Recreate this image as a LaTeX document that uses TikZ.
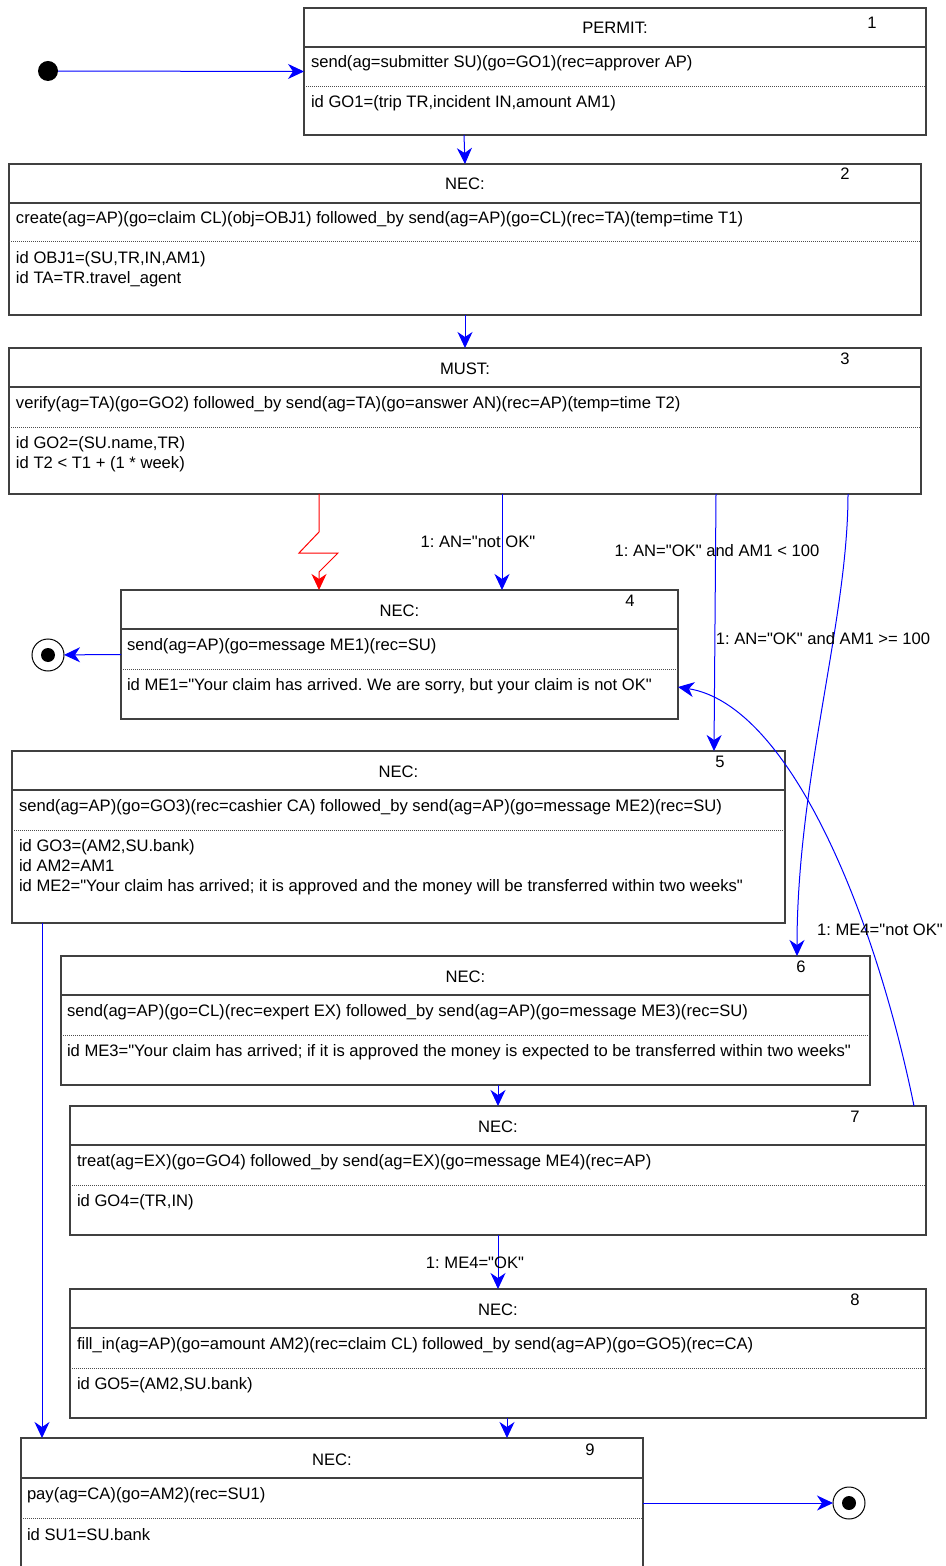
\documentclass[tikz,border=0pt]{standalone}
\usepackage{fontspec}
\newfontfamily\diagfont{Liberation Sans}
\usetikzlibrary{arrows.meta, positioning, calc}
\frenchspacing

\begin{document}
\begin{tikzpicture}[
    x=0.5pt, y=-0.5pt,
    every node/.style={font=\diagfont\fontsize{8.3}{10}\selectfont, inner sep=0pt, outer sep=0pt},
    frame/.style={draw=black!75, line width=0.6pt},
    sep/.style={draw=black!75, line width=0.6pt},
    dsep/.style={draw=black!70, line width=0.5pt, dash pattern=on 0.5pt off 0.5pt},
    title/.style={anchor=center, yshift=-1pt},
    num/.style={anchor=center, yshift=-1pt},
    line/.style={anchor=west, align=left, yshift=-1pt},
    guard/.style={anchor=center, yshift=-1pt},
    arrow/.style={-{Stealth[length=8pt, width=7.5pt, inset=2.5pt]}, blue, line width=0.5pt},
    fault/.style={-{Stealth[length=8pt, width=7.5pt, inset=2.5pt]}, red, line width=0.5pt},
    initial/.style={circle, fill=black, minimum size=10pt},
    final/.style={circle, draw=black, line width=0.5pt, minimum size=16pt,
                  path picture={\fill (path picture bounding box.center) circle (3.5pt);}}
  ]
  \useasboundingbox (0,0) rectangle (946,1566);

  % states
  \node[initial] (start) at (48,71) {};
  \node[final] (end1) at (48,655) {};
  \node[final] (end2) at (849,1503) {};

  % 1: permit
  \node[frame, minimum width=311pt, minimum height=63.5pt] (s1) at (615,71.5) {};
  \draw[sep] (s1.west |- 0,47) -- (s1.east |- 0,47);
  \draw[dsep] (s1.west |- 0,87) -- (s1.east |- 0,87);
  \node[title] (s1t) at (615,26) {PERMIT:};
  \node[num] (s1n) at (872,21) {1};
  \node[line] (s1a) at (311,61) {send(ag=submitter SU)(go=GO1)(rec=approver AP)};
  \node[line] (s1b) at (311,101) {id GO1=(trip TR,incident IN,amount AM1)};

  % 2
  \node[frame, minimum width=456pt, minimum height=75.5pt] (s2) at (465,239.5) {};
  \draw[sep] (s2.west |- 0,203) -- (s2.east |- 0,203);
  \draw[dsep] (s2.west |- 0,242) -- (s2.east |- 0,242);
  \node[title] (s2t) at (465,182) {NEC:};
  \node[num] (s2n) at (845,172) {2};
  \node[line] (s2a) at (16,217) {create(ag=AP)(go=claim CL)(obj=OBJ1) followed\_by send(ag=AP)(go=CL)(rec=TA)(temp=time T1)};
  \node[line] (s2b) at (16,267) {id OBJ1=(SU,TR,IN,AM1)\\id TA=TR.travel\_agent};

  % 3
  \node[frame, minimum width=456pt, minimum height=73pt] (s3) at (465,421) {};
  \draw[sep] (s3.west |- 0,387) -- (s3.east |- 0,387);
  \draw[dsep] (s3.west |- 0,428) -- (s3.east |- 0,428);
  \node[title] (s3t) at (465,367) {MUST:};
  \node[num] (s3n) at (845,357) {3};
  \node[line] (s3a) at (16,402) {verify(ag=TA)(go=GO2) followed\_by send(ag=TA)(go=answer AN)(rec=AP)(temp=time T2)};
  \node[line] (s3b) at (16,452) {id GO2=(SU.name,TR)\\id T2 < T1 + (1 * week)};

  % 4
  \node[frame, minimum width=278.5pt, minimum height=64.5pt] (s4) at (399.5,654.5) {};
  \draw[sep] (s4.west |- 0,629) -- (s4.east |- 0,629);
  \draw[dsep] (s4.west |- 0,669) -- (s4.east |- 0,669);
  \node[title] (s4t) at (399.5,609) {NEC:};
  \node[num] (s4n) at (630,599) {4};
  \node[line] (s4a) at (127,644) {send(ag=AP)(go=message ME1)(rec=SU)};
  \node[line] (s4b) at (127,684) {id ME1="Your claim has arrived. We are sorry, but your claim is not OK"};

  % 5
  \node[frame, minimum width=386.5pt, minimum height=86pt] (s5) at (398.5,837) {};
  \draw[sep] (s5.west |- 0,790) -- (s5.east |- 0,790);
  \draw[dsep] (s5.west |- 0,830) -- (s5.east |- 0,830);
  \node[title] (s5t) at (398.5,770) {NEC:};
  \node[num] (s5n) at (720,760) {5};
  \node[line] (s5a) at (19,805) {send(ag=AP)(go=GO3)(rec=cashier CA) followed\_by send(ag=AP)(go=message ME2)(rec=SU)};
  \node[line] (s5b) at (19,865) {id GO3=(AM2,SU.bank)\\id AM2=AM1\\id ME2="Your claim has arrived; it is approved and the money will be transferred within two weeks"};

  % 6
  \node[frame, minimum width=404.5pt, minimum height=64.5pt] (s6) at (465.5,1020.5) {};
  \draw[sep] (s6.west |- 0,995) -- (s6.east |- 0,995);
  \draw[dsep] (s6.west |- 0,1035) -- (s6.east |- 0,1035);
  \node[title] (s6t) at (465.5,975) {NEC:};
  \node[num] (s6n) at (801,965) {6};
  \node[line] (s6a) at (67,1010) {send(ag=AP)(go=CL)(rec=expert EX) followed\_by send(ag=AP)(go=message ME3)(rec=SU)};
  \node[line] (s6b) at (67,1050) {id ME3="Your claim has arrived; if it is approved the money is expected to be transferred within two weeks"};

  % 7
  \node[frame, minimum width=428pt, minimum height=64.5pt] (s7) at (498,1170.5) {};
  \draw[sep] (s7.west |- 0,1145) -- (s7.east |- 0,1145);
  \draw[dsep] (s7.west |- 0,1185) -- (s7.east |- 0,1185);
  \node[title] (s7t) at (498,1125) {NEC:};
  \node[num] (s7n) at (855,1115) {7};
  \node[line] (s7a) at (77,1160) {treat(ag=EX)(go=GO4) followed\_by send(ag=EX)(go=message ME4)(rec=AP)};
  \node[line] (s7b) at (77,1200) {id GO4=(TR,IN)};

  % 8
  \node[frame, minimum width=428pt, minimum height=64.5pt] (s8) at (498,1353.5) {};
  \draw[sep] (s8.west |- 0,1328) -- (s8.east |- 0,1328);
  \draw[dsep] (s8.west |- 0,1368) -- (s8.east |- 0,1368);
  \node[title] (s8t) at (498,1308) {NEC:};
  \node[num] (s8n) at (855,1298) {8};
  \node[line] (s8a) at (77,1343) {fill\_in(ag=AP)(go=amount AM2)(rec=claim CL) followed\_by send(ag=AP)(go=GO5)(rec=CA)};
  \node[line] (s8b) at (77,1383) {id GO5=(AM2,SU.bank)};

  % 9
  \node[frame, minimum width=311pt, minimum height=65pt] (s9) at (332,1503) {};
  \draw[sep] (s9.west |- 0,1478) -- (s9.east |- 0,1478);
  \draw[dsep] (s9.west |- 0,1518) -- (s9.east |- 0,1518);
  \node[title] (s9t) at (332,1458) {NEC:};
  \node[num] (s9n) at (590,1448) {9};
  \node[line] (s9a) at (27,1493) {pay(ag=CA)(go=AM2)(rec=SU1)};
  \node[line] (s9b) at (27,1533) {id SU1=SU.bank};

  % transitions
  \draw[arrow] (start) -- (s1.west);
  \draw[arrow] (s1.south -| 464,0) -- (s2.north -| 465,0);
  \draw[arrow] (s2.south -| 465,0) -- (s3.north -| 465,0);
  \draw[fault] (s3.south -| 319,0) -- (319,532) -- (299,553) -- (338,553) -- (319,572) -- (s4.north -| 319,0);
  \draw[arrow] (s3.south -| 502,0) -- (s4.north -| 502,0);
  \draw[arrow] (s3.south -| 716,0) -- (s5.north -| 714,0);
  \draw[arrow] (s3.south -| 848,0) .. controls (848,620) and (797,780) .. (s6.north -| 797,0);
  \draw[arrow] (s4.west) -- (end1);
  \draw[arrow] (s7.north -| 914,0) .. controls (875,915) and (790,705) .. (s4.east |- 0,687);
  \draw[arrow] (s5.south -| 42,0) -- (s9.north -| 42,0);
  \draw[arrow] (s6.south -| 498,0) -- (s7.north -| 498,0);
  \draw[arrow] (s7.south -| 498,0) -- (s8.north -| 498,0);
  \draw[arrow] (s8.south -| 507,0) -- (s9.north -| 507,0);
  \draw[arrow] (s9.east) -- (end2);

  % guards
  \node[guard] (g1) at (478,540) {1: AN="not OK"};
  \node[guard] (g2) at (717,549) {1: AN="OK" and AM1 < 100};
  \node[guard] (g3) at (823,637) {1: AN="OK" and AM1 >= 100};
  \node[guard] (g4) at (880,928) {1: ME4="not OK"};
  \node[guard] (g5) at (475,1261) {1: ME4="OK"};
\end{tikzpicture}
\end{document}
